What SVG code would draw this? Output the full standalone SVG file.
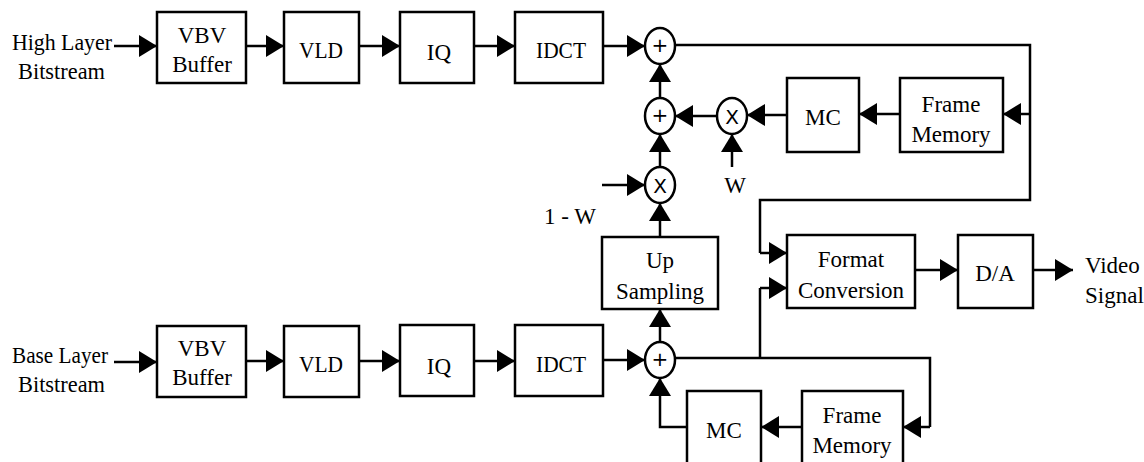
<svg xmlns="http://www.w3.org/2000/svg" width="1144" height="462" viewBox="0 0 1144 462">
<defs>
<marker id="ah" markerUnits="userSpaceOnUse" markerWidth="20" markerHeight="24" refX="18" refY="11" orient="auto">
<path d="M0,0 L18,11 L0,22 z" fill="#000"/>
</marker>
<style>
.box{fill:#fff;stroke:#000;stroke-width:2.5}
.op{fill:#fff;stroke:#000;stroke-width:2.5}
.ln{fill:none;stroke:#000;stroke-width:2.5}
.ar{fill:none;stroke:#000;stroke-width:2.5;marker-end:url(#ah)}
text{font-family:"Liberation Serif","Times New Roman",serif;font-size:23px;fill:#000;text-anchor:middle;dominant-baseline:central}
.lbl{text-anchor:start}
.sym{font-family:"DejaVu Sans","Liberation Sans",sans-serif;font-size:20px}
</style>
</defs>
<rect width="1144" height="462" fill="#fff"/>

<g id="connectors">
<path class="ar" d="M114,46 H157"/>
<path class="ar" d="M246,46 H284"/>
<path class="ar" d="M359,46 H400"/>
<path class="ar" d="M474,46 H515"/>
<path class="ar" d="M603,46 H645"/>
<path class="ln" d="M675,45 H1030 V200 H760 V253"/>
<path class="ar" d="M760,253 H787"/>
<path class="ar" d="M1030,114 H1003"/>
<path class="ar" d="M900,114 H859"/>
<path class="ar" d="M787,115 H747"/>
<path class="ar" d="M717,116 H675"/>
<path class="ar" d="M732,167 V134"/>
<path class="ar" d="M602,185 H645"/>
<path class="ar" d="M660,167 V134"/>
<path class="ar" d="M660,98 V64"/>
<path class="ar" d="M660,237 V203"/>
<path class="ar" d="M660,342 V309"/>
<path class="ar" d="M114,362 H157"/>
<path class="ar" d="M246,361 H284"/>
<path class="ar" d="M359,361 H400"/>
<path class="ar" d="M474,361 H515"/>
<path class="ar" d="M603,360 H645"/>
<path class="ln" d="M675,358 H930 V427"/>
<path class="ar" d="M930,427 H903"/>
<path class="ln" d="M760,358 V288"/>
<path class="ar" d="M760,288 H787"/>
<path class="ar" d="M802,427 H761"/>
<path class="ln" d="M687,427 H660 V400"/>
<path class="ar" d="M660,400 V378"/>
<path class="ar" d="M915,270 H958"/>
<path class="ar" d="M1033,270 H1073"/>
</g>

<g id="labels">
<text class="lbl" x="12" y="42" textLength="100" lengthAdjust="spacingAndGlyphs">High Layer</text>
<text class="lbl" x="18" y="71" textLength="87" lengthAdjust="spacingAndGlyphs">Bitstream</text>
<text class="lbl" x="12" y="355" textLength="96" lengthAdjust="spacingAndGlyphs">Base Layer</text>
<text class="lbl" x="18" y="384" textLength="87" lengthAdjust="spacingAndGlyphs">Bitstream</text>
<text x="735" y="185">W</text>
<text x="570" y="216">1 - W</text>
<text class="lbl" x="1085" y="265">Video</text>
<text class="lbl" x="1085" y="295">Signal</text>
</g>

<g id="hl-vbv"><rect class="box" x="157" y="12" width="89" height="71"/><text x="202" y="35">VBV</text><text x="202" y="64">Buffer</text></g>
<g id="hl-vld"><rect class="box" x="284" y="12" width="75" height="71"/><text x="321" y="50" textLength="44" lengthAdjust="spacingAndGlyphs">VLD</text></g>
<g id="hl-iq"><rect class="box" x="400" y="12" width="74" height="71"/><text x="439" y="52">IQ</text></g>
<g id="hl-idct"><rect class="box" x="515" y="12" width="88" height="71"/><text x="561" y="50" textLength="50" lengthAdjust="spacingAndGlyphs">IDCT</text></g>
<g id="hl-sum1"><ellipse class="op" cx="660" cy="46" rx="15" ry="18"/><text class="sym" x="660" y="45">+</text></g>
<g id="hl-sum2"><ellipse class="op" cx="660" cy="116" rx="15" ry="18"/><text class="sym" x="660" y="115">+</text></g>
<g id="hl-mul"><ellipse class="op" cx="732" cy="116" rx="15" ry="18"/><text class="sym" x="732" y="117">X</text></g>
<g id="mul-lower"><ellipse class="op" cx="660" cy="185" rx="15" ry="18"/><text class="sym" x="660" y="186">X</text></g>
<g id="hl-mc"><rect class="box" x="787" y="78" width="72" height="74"/><text x="823" y="117">MC</text></g>
<g id="hl-fm"><rect class="box" x="900" y="78" width="103" height="74"/><text x="951" y="104">Frame</text><text x="951" y="134">Memory</text></g>
<g id="upsampling"><rect class="box" x="602" y="237" width="116" height="72"/><text x="660" y="260">Up</text><text x="660" y="291">Sampling</text></g>
<g id="format"><rect class="box" x="787" y="235" width="128" height="73"/><text x="851" y="259">Format</text><text x="851" y="290">Conversion</text></g>
<g id="da"><rect class="box" x="958" y="235" width="75" height="73"/><text x="995" y="273">D/A</text></g>

<g id="bl-vbv"><rect class="box" x="157" y="326" width="89" height="71"/><text x="202" y="348">VBV</text><text x="202" y="377">Buffer</text></g>
<g id="bl-vld"><rect class="box" x="284" y="326" width="75" height="71"/><text x="321" y="364" textLength="44" lengthAdjust="spacingAndGlyphs">VLD</text></g>
<g id="bl-iq"><rect class="box" x="400" y="325" width="74" height="71"/><text x="439" y="366">IQ</text></g>
<g id="bl-idct"><rect class="box" x="515" y="325" width="88" height="71"/><text x="561" y="364" textLength="50" lengthAdjust="spacingAndGlyphs">IDCT</text></g>
<g id="bl-sum"><ellipse class="op" cx="660" cy="360" rx="15" ry="18"/><text class="sym" x="660" y="359">+</text></g>
<g id="bl-mc"><rect class="box" x="687" y="391" width="74" height="80"/><text x="724" y="430">MC</text></g>
<g id="bl-fm"><rect class="box" x="802" y="391" width="101" height="80"/><text x="852" y="415">Frame</text><text x="852" y="445">Memory</text></g>
</svg>
